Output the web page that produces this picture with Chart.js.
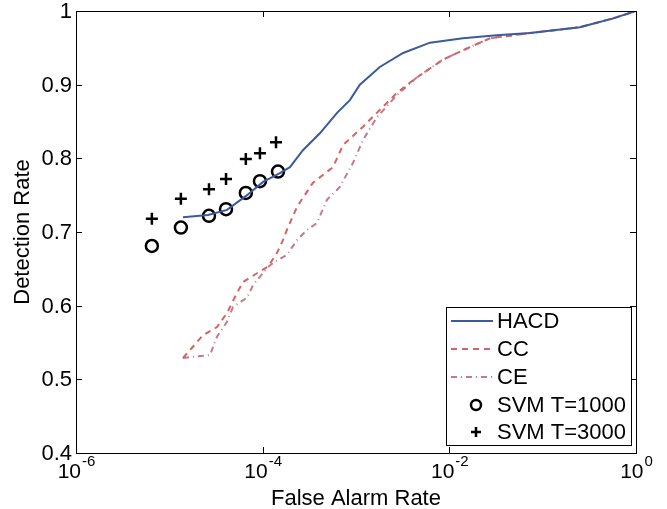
<!DOCTYPE html>
<html>
<head>
<meta charset="utf-8">
<script src="https://cdn.jsdelivr.net/npm/chart.js@4/dist/chart.umd.min.js"></script>
<style>
  html, body { margin: 0; padding: 0; background: #fff; }
  #wrap { width: 667px; height: 509px; }
</style>
</head>
<body>
<div id="wrap"><canvas id="roc"></canvas></div>
<script>
// values
let hacdX = [1.4e-5, 2.6e-5, 4.15e-5, 6.8e-5, 1.01e-4, 1.53e-4, 1.96e-4, 2.7e-4, 4.1e-4, 6.3e-4, 8.6e-4, 1.1e-3, 1.8e-3, 3.2e-3, 6.2e-3, 0.014, 0.032, 0.073, 0.25, 0.57, 1];
let hacdY = [0.720, 0.723, 0.730, 0.750, 0.768, 0.780, 0.788, 0.811, 0.834, 0.862, 0.879, 0.900, 0.924, 0.943, 0.957, 0.963, 0.967, 0.970, 0.978, 0.990, 1.0];

let ccX = [1.4e-5, 2.3e-5, 3.24e-5, 4.15e-5, 5.3e-5, 6.15e-5, 8.7e-5, 1.14e-4, 1.43e-4, 1.65e-4, 1.82e-4, 2.33e-4, 3.46e-4, 5.67e-4, 7.26e-4, 1.19e-3, 1.68e-3, 2.75e-3, 4.5e-3, 8.55e-3, 0.0166, 0.0273, 0.073, 0.25, 0.57, 1];
let ccY = [0.529, 0.560, 0.571, 0.590, 0.617, 0.632, 0.644, 0.653, 0.672, 0.689, 0.703, 0.734, 0.767, 0.788, 0.818, 0.843, 0.862, 0.889, 0.910, 0.934, 0.951, 0.963, 0.970, 0.978, 0.990, 1.0];

let ceX = [1.4e-5, 2.73e-5, 3.24e-5, 4.15e-5, 4.8e-5, 6.8e-5, 7.9e-5, 1.11e-4, 1.29e-4, 1.82e-4, 2.33e-4, 3.0e-4, 3.8e-4, 4.9e-4, 6.7e-4, 9.3e-4, 1.19e-3, 1.68e-3, 2.75e-3, 4.5e-3, 8.55e-3, 0.0166, 0.0273, 0.073, 0.25, 0.57, 1];
let ceY = [0.529, 0.533, 0.558, 0.578, 0.598, 0.611, 0.628, 0.651, 0.658, 0.669, 0.689, 0.703, 0.712, 0.744, 0.761, 0.794, 0.825, 0.856, 0.886, 0.910, 0.934, 0.951, 0.963, 0.970, 0.978, 0.990, 1.0];

let svm1000X = [6.5e-6, 1.33e-5, 2.66e-5, 4.05e-5, 6.6e-5, 9.35e-5, 1.46e-4];
let svm1000Y = [0.681, 0.706, 0.722, 0.731, 0.753, 0.769, 0.782];
let svm3000X = [6.5e-6, 1.33e-5, 2.66e-5, 4.05e-5, 6.6e-5, 9.35e-5, 1.39e-4];
let svm3000Y = [0.718, 0.745, 0.758, 0.772, 0.799, 0.807, 0.822];

let yTicks = [0.4, 0.5, 0.6, 0.7, 0.8, 0.9, 1];
let yTickLabels = ["0.4", "0.5", "0.6", "0.7", "0.8", "0.9", "1"];
let xTicks = [1e-6, 1e-4, 1e-2, 1];
let xTickExp = ["-6", "-4", "-2", "0"];

function pts(xs, ys) {
  let out = [];
  for (let i = 0; i < xs.length; i++) out.push({ x: xs[i], y: ys[i] });
  return out;
}

const FONT = '"Liberation Sans", Arial, sans-serif';

let datasets = [
  { label: "HACD", data: pts(hacdX, hacdY), showLine: true, borderColor: "#3b5b9c", borderWidth: 2, pointRadius: 0, fill: false },
  { label: "CC", data: pts(ccX, ccY), showLine: true, borderColor: "#d46464", borderWidth: 2, borderDash: [6, 5], pointRadius: 0, fill: false },
  { label: "CE", data: pts(ceX, ceY), showLine: true, borderColor: "#c27a8c", borderWidth: 2, borderDash: [6, 4, 1, 4], pointRadius: 0, fill: false },
  { label: "SVM T=1000", data: pts(svm1000X, svm1000Y), showLine: false, pointStyle: "circle", pointRadius: 6, borderColor: "#000", backgroundColor: "rgba(0,0,0,0)", pointBorderWidth: 2.5 },
  { label: "SVM T=3000", data: pts(svm3000X, svm3000Y), showLine: false, pointStyle: "cross", pointRadius: 6, borderColor: "#000", pointBorderWidth: 2.5 }
];

// box, inner ticks, labels, titles and legend (matlab look)
let matlabBits = {
  id: "matlabBits",
  afterDraw(chart) {
    let ctx = chart.ctx;
    let a = chart.chartArea;
    let xs = chart.scales.x, ys = chart.scales.y;
    ctx.save();
    ctx.strokeStyle = "#000";
    ctx.lineWidth = 1;
    ctx.strokeRect(a.left + 0.5, a.top + 0.5, a.right - a.left, a.bottom - a.top);

    // ticks inside the box
    ctx.beginPath();
    yTicks.forEach(v => {
      let py = Math.round(ys.getPixelForValue(v)) + 0.5;
      ctx.moveTo(a.left, py); ctx.lineTo(a.left + 6, py);
      ctx.moveTo(a.right, py); ctx.lineTo(a.right - 6, py);
    });
    xTicks.forEach(v => {
      let px = Math.round(xs.getPixelForValue(v)) + 0.5;
      ctx.moveTo(px, a.bottom); ctx.lineTo(px, a.bottom - 6);
      ctx.moveTo(px, a.top); ctx.lineTo(px, a.top + 6);
    });
    ctx.stroke();

    ctx.fillStyle = "#000";
    // y tick labels
    ctx.font = "22px " + FONT;
    ctx.textAlign = "right";
    ctx.textBaseline = "middle";
    yTicks.forEach((v, i) => {
      ctx.fillText(yTickLabels[i], a.left - 4, ys.getPixelForValue(v) + 1);
    });

    // x tick labels 10^n
    ctx.textBaseline = "alphabetic";
    ctx.textAlign = "left";
    xTicks.forEach((v, i) => {
      ctx.font = "21px " + FONT;
      let wb = ctx.measureText("10").width;
      ctx.font = "15px " + FONT;
      let we = ctx.measureText(xTickExp[i]).width;
      let x0 = xs.getPixelForValue(v) - (wb + we) / 2;
      ctx.font = "21px " + FONT;
      ctx.fillText("10", x0, 478);
      ctx.font = "15px " + FONT;
      ctx.fillText(xTickExp[i], x0 + wb + 1, 466);
    });

    // axis titles
    ctx.font = "22px " + FONT;
    ctx.textAlign = "center";
    ctx.fillText("False Alarm Rate", (a.left + a.right) / 2, 505);
    ctx.save();
    ctx.translate(23, (a.top + a.bottom) / 2);
    ctx.rotate(-Math.PI / 2);
    ctx.textBaseline = "middle";
    ctx.fillText("Detection Rate", 0, 0);
    ctx.restore();

    // legend box
    let lx = 446, ly = 307, lw = 185, lh = 138;
    ctx.fillStyle = "#fff";
    ctx.fillRect(lx, ly, lw, lh);
    ctx.strokeStyle = "#000";
    ctx.lineWidth = 1;
    ctx.strokeRect(lx + 0.5, ly + 0.5, lw, lh);
    let rowY = [321, 349, 377, 405, 432];
    chart.data.datasets.forEach((ds, i) => {
      let y = rowY[i];
      if (ds.showLine) {
        ctx.save();
        ctx.strokeStyle = ds.borderColor;
        ctx.lineWidth = ds.borderWidth;
        ctx.setLineDash(ds.borderDash || []);
        ctx.beginPath();
        ctx.moveTo(451, y); ctx.lineTo(493, y);
        ctx.stroke();
        ctx.restore();
      } else {
        ctx.save();
        ctx.strokeStyle = "#000";
        ctx.fillStyle = "rgba(0,0,0,0)";
        ctx.lineWidth = ds.pointBorderWidth;
        Chart.helpers.drawPoint(ctx, { pointStyle: ds.pointStyle, radius: 5, borderWidth: ds.pointBorderWidth, rotation: 0 }, 476, y);
        ctx.restore();
      }
      ctx.fillStyle = "#000";
      ctx.font = "22px " + FONT;
      ctx.textAlign = "left";
      ctx.textBaseline = "middle";
      ctx.fillText(ds.label, 497, y + 1);
    });
    ctx.restore();
  }
};

new Chart(document.getElementById("roc"), {
  type: "scatter",
  data: { datasets: datasets },
  options: {
    responsive: true,
    maintainAspectRatio: false,
    animation: false,
    // scales keep ~8px each even with ticks hidden, so padding is trimmed by that
    layout: { padding: { left: 68, right: 31, top: 11, bottom: 48 } },
    plugins: { legend: { display: false }, tooltip: { enabled: false } },
    scales: {
      x: {
        type: "logarithmic", min: 1e-6, max: 1,
        ticks: { display: false },
        grid: { display: false },
        border: { display: false },
        title: { display: false }
      },
      y: {
        min: 0.4, max: 1,
        ticks: { display: false },
        grid: { display: false },
        border: { display: false },
        title: { display: false }
      }
    }
  },
  plugins: [matlabBits]
});
</script>
</body>
</html>
